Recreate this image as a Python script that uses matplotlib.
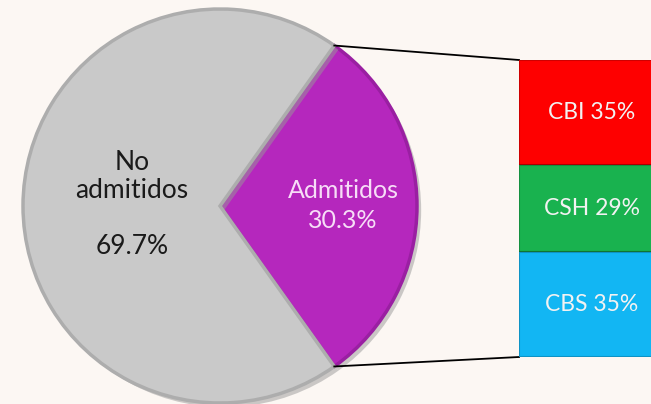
import numpy as np
import matplotlib.pyplot as plt
import matplotlib.patheffects as pe

# Datos del gráfico
pie_labels = ['Admitidos', 'No\nadmitidos']
pie_values = [30.3, 69.7]
pie_colors = ['#B527BD', '#C9C9C9']

bar_labels = ['CBI', 'CSH', 'CBS']
bar_values = [35, 29, 35]
bar_colors = ['#FE0000', '#19B24F', '#12B6F3']

bg = '#FCF7F3'
plt.rcParams['font.family'] = ['Lato', 'DejaVu Sans']

W, H = 651, 404
fig = plt.figure(figsize=(W / 100, H / 100), dpi=100, facecolor=bg)

# Eje principal en coordenadas de píxel
ax = fig.add_axes([0, 0, 1, 1])
ax.set_aspect('equal')

cx, cy, r = 220, H - 206, 197
span = pie_values[0] / sum(pie_values) * 360
start = -span / 2

wedges, _ = ax.pie(pie_values, colors=pie_colors, startangle=start,
                   center=(cx, cy), radius=r, frame=True,
                   wedgeprops=dict(linewidth=0))
ax.set_xlim(0, W)
ax.set_ylim(0, H)
ax.axis('off')

# Bordes con efecto de relieve
for w, c in zip(wedges, ['#9A1FA2', '#ADADAD']):
    w.set_path_effects([pe.SimplePatchShadow(offset=(3, -3), shadow_rgbFace='#999999', alpha=0.5),
                        pe.Normal()])
    w.set_edgecolor(c)
    w.set_linewidth(2.5)

# Textos del pastel
ax.text(cx + 123, H - 190, pie_labels[0], ha='center', va='center',
        fontsize=18, color='#F7DDF7')
ax.text(cx + 123, H - 220, f'{pie_values[0]}%', ha='center', va='center',
        fontsize=18, color='#F7DDF7')
ax.text(132, H - 177, pie_labels[1], ha='center', va='center',
        fontsize=19, color='#1A1A1A', linespacing=1.15)
ax.text(132, H - 246, f'{pie_values[1]}%', ha='center', va='center',
        fontsize=19, color='#1A1A1A')

# Barra apilada
bx0, by0, by1 = 519, H - 357, H - 60
bax = fig.add_axes([bx0 / W, by0 / H, (W - bx0) / W + 0.03, (by1 - by0) / H])
bax.set_xlim(0, 1)
bax.set_ylim(0, sum(bar_values))
bax.axis('off')
bottom = sum(bar_values)
for lab, v, c in zip(bar_labels, bar_values, bar_colors):
    bottom -= v
    bax.bar(0.5, v, bottom=bottom, width=1, color=c, edgecolor='#00000030', linewidth=1.5)
    bax.text(0.48, bottom + v / 2, f'{lab} {v}%', ha='center', va='center',
             fontsize=16.5, color='#F2F2F2')

# Líneas de conexión
a = np.deg2rad(span / 2)
px, py = cx + r * np.cos(a), cy + r * np.sin(a)
ax.plot([px, bx0], [py, by1], color='black', lw=1.3)
ax.plot([px, bx0], [cy - r * np.sin(a), by0], color='black', lw=1.3)

fig.savefig('out.png', dpi=100, facecolor=bg)
